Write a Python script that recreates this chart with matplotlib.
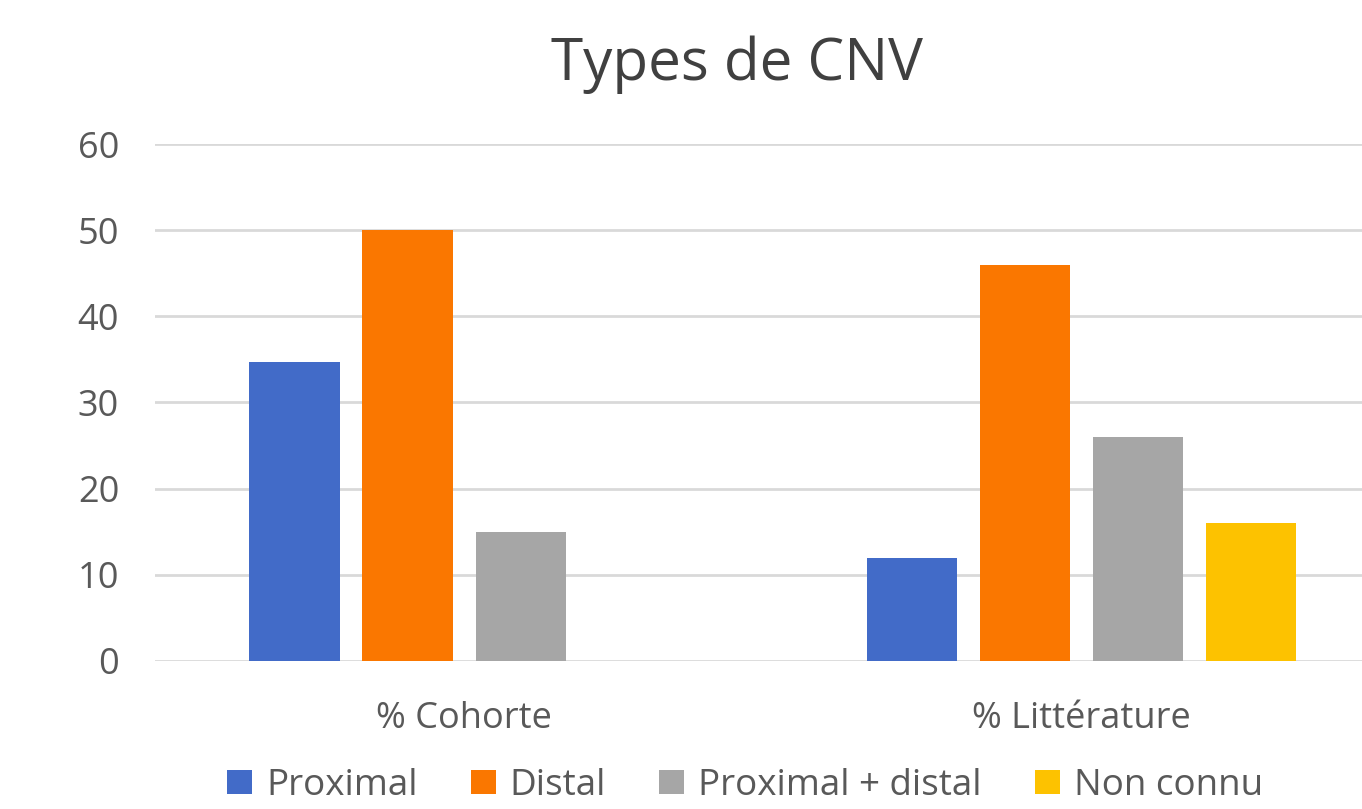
import matplotlib.pyplot as plt
import numpy as np

plt.rcParams['font.family'] = ['Open Sans', 'DejaVu Sans']

# données
categories = ['% Cohorte', '% Littérature']
series = ['Proximal', 'Distal', 'Proximal + distal', 'Non connu']
proximal = [34.7, 12]
distal = [50, 46]
prox_distal = [15, 26]
non_connu = [0, 16]
values = [proximal, distal, prox_distal, non_connu]
colors = ['#426BC8', '#FA7700', '#A6A6A6', '#FDC200']

fig = plt.figure(figsize=(13.62, 8.09), dpi=100)
ax = fig.add_axes([0.114, 0.183, 0.907, 0.639])

x = np.arange(len(categories))
slot = 0.183
width = 0.146
for i, (name, vals, col) in enumerate(zip(series, values, colors)):
    ax.bar(x + (i - 1.5) * slot, vals, width, color=col, label=name, zorder=3)

ax.set_ylim(0, 60)
ax.set_xlim(-0.5, 1.5)
ax.set_yticks(range(0, 61, 10))
ax.set_xticks(x)
ax.set_xticklabels(categories)
ax.grid(axis='y', color='#D9D9D9', linewidth=2, zorder=0)
for s in ax.spines.values():
    s.set_visible(False)
ax.tick_params(axis='both', length=0, labelsize=26, labelcolor='#595959')
ax.tick_params(axis='y', pad=26)
ax.tick_params(axis='x', pad=29)

fig.suptitle('Types de CNV', fontsize=42, color='#404040', x=0.541, y=0.956)

fig.legend(loc='center', bbox_to_anchor=(0.547, 0.028), ncol=4, frameon=False,
           fontsize=26.5, labelcolor='#595959', handlelength=0.68, handleheight=0.63,
           handletextpad=0.38, columnspacing=1.44)

fig.savefig('out.png', dpi=100)
